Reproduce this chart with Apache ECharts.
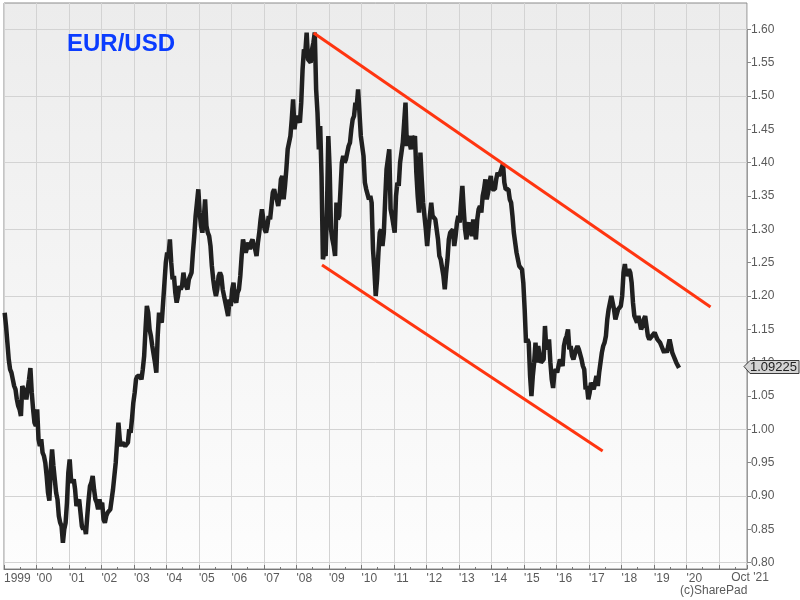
<!DOCTYPE html>
<html><head><meta charset="utf-8">
<script src="https://cdn.jsdelivr.net/npm/echarts@6/dist/echarts.min.js"></script>
<style>html,body{margin:0;padding:0;background:#fff}#c{width:800px;height:600px}</style>
</head><body><div id="c"></div>
<script>
// EUR/USD, two readings per month (first half, second half)
const eur1999 = [1.175,1.155, 1.130,1.105, 1.090,1.085, 1.075,1.065, 1.060,1.045, 1.035,1.030, 1.020,1.065, 1.060,1.055, 1.045,1.060, 1.075,1.092, 1.055,1.030, 1.010,1.005];
const eur2000 = [1.030,0.985, 0.975,0.985, 0.965,0.960, 0.950,0.930, 0.905,0.893, 0.940,0.970, 0.945,0.925, 0.905,0.895, 0.870,0.860, 0.855,0.830, 0.850,0.860, 0.890,0.935];
const eur2001 = [0.955,0.925, 0.920,0.925, 0.910,0.885, 0.890,0.895, 0.875,0.855, 0.850,0.855, 0.843,0.870, 0.895,0.915, 0.920,0.930, 0.910,0.895, 0.890,0.880, 0.895,0.885];
const eur2002 = [0.890,0.865, 0.860,0.870, 0.875,0.875, 0.880,0.895, 0.910,0.930, 0.950,0.980, 1.010,0.985, 0.975,0.980, 0.980,0.975, 0.975,0.980, 1.000,0.995, 1.015,1.040];
const eur2003 = [1.055,1.075, 1.080,1.080, 1.080,1.075, 1.090,1.110, 1.150,1.185, 1.175,1.150, 1.140,1.125, 1.125,1.100, 1.085,1.140, 1.175,1.165, 1.160,1.190, 1.220,1.250];
const eur2004 = [1.265,1.260, 1.285,1.250, 1.225,1.230, 1.205,1.190, 1.200,1.215, 1.210,1.215, 1.235,1.220, 1.220,1.210, 1.225,1.225, 1.235,1.265, 1.290,1.320, 1.340,1.360];
const eur2005 = [1.325,1.305, 1.295,1.315, 1.345,1.305, 1.295,1.290, 1.275,1.245, 1.225,1.210, 1.200,1.210, 1.230,1.235, 1.230,1.210, 1.200,1.200, 1.180,1.170, 1.195,1.185];
const eur2006 = [1.210,1.220, 1.195,1.190, 1.205,1.210, 1.230,1.260, 1.285,1.285, 1.265,1.265, 1.280,1.270, 1.280,1.285, 1.275,1.270, 1.260,1.280, 1.295,1.315, 1.330,1.315];
const eur2007 = [1.300,1.295, 1.305,1.320, 1.315,1.335, 1.355,1.360, 1.350,1.345, 1.335,1.350, 1.375,1.380, 1.345,1.365, 1.390,1.420, 1.420,1.440, 1.465,1.495, 1.450,1.465];
const eur2008 = [1.470,1.465, 1.460,1.490, 1.540,1.570, 1.565,1.595, 1.555,1.555, 1.550,1.570, 1.580,1.595, 1.510,1.475, 1.420,1.455, 1.380,1.255, 1.265,1.260, 1.330,1.440];
const eur2009 = [1.390,1.300, 1.285,1.275, 1.260,1.340, 1.315,1.320, 1.360,1.400, 1.410,1.400, 1.405,1.415, 1.425,1.430, 1.450,1.465, 1.470,1.490, 1.485,1.510, 1.475,1.440];
const eur2010 = [1.440,1.410, 1.370,1.360, 1.360,1.345, 1.350,1.340, 1.270,1.240, 1.200,1.225, 1.265,1.295, 1.300,1.275, 1.295,1.345, 1.390,1.390, 1.420,1.330, 1.320,1.320];
const eur2011 = [1.295,1.350, 1.370,1.365, 1.400,1.415, 1.430,1.460, 1.490,1.425, 1.440,1.430, 1.420,1.440, 1.435,1.440, 1.385,1.350, 1.325,1.415, 1.375,1.340, 1.320,1.300];
const eur2012 = [1.275,1.300, 1.320,1.340, 1.320,1.320, 1.315,1.315, 1.285,1.260, 1.255,1.255, 1.230,1.210, 1.235,1.255, 1.285,1.295, 1.295,1.300, 1.275,1.290, 1.310,1.320];
const eur2013 = [1.310,1.340, 1.365,1.330, 1.300,1.285, 1.305,1.310, 1.300,1.290, 1.315,1.315, 1.285,1.315, 1.330,1.335, 1.325,1.350, 1.360,1.375, 1.345,1.355, 1.370,1.380];
const eur2014 = [1.360,1.360, 1.360,1.375, 1.385,1.380, 1.385,1.385, 1.398,1.370, 1.360,1.360, 1.360,1.345, 1.340,1.320, 1.295,1.280, 1.265,1.265, 1.245,1.245, 1.240,1.220];
const eur2015 = [1.180,1.130, 1.135,1.130, 1.080,1.050, 1.080,1.100, 1.130,1.100, 1.125,1.125, 1.100,1.100, 1.105,1.155, 1.120,1.125, 1.135,1.100, 1.075,1.062, 1.085,1.090];
const eur2016 = [1.085,1.085, 1.105,1.105, 1.095,1.125, 1.135,1.140, 1.150,1.120, 1.125,1.110, 1.105,1.105, 1.120,1.125, 1.120,1.120, 1.105,1.095, 1.090,1.060, 1.065,1.045];
const eur2017 = [1.055,1.070, 1.065,1.060, 1.070,1.080, 1.065,1.085, 1.100,1.115, 1.125,1.130, 1.140,1.165, 1.180,1.180, 1.200,1.190, 1.180,1.165, 1.165,1.180, 1.180,1.185];
const eur2018 = [1.200,1.235, 1.248,1.230, 1.230,1.240, 1.235,1.220, 1.190,1.170, 1.170,1.160, 1.170,1.170, 1.150,1.155, 1.165,1.170, 1.155,1.140, 1.135,1.135, 1.140,1.140];
const eur2019 = [1.145,1.140, 1.135,1.135, 1.130,1.125, 1.125,1.115, 1.120,1.115, 1.125,1.135, 1.125,1.115, 1.110,1.108, 1.100,1.098, 1.09225];

const yearSeries = [eur1999,eur2000,eur2001,eur2002,eur2003,eur2004,eur2005,eur2006,eur2007,eur2008,eur2009,eur2010,eur2011,eur2012,eur2013,eur2014,eur2015,eur2016,eur2017,eur2018,eur2019];
const firstYear = 1999;

// channel lines [year, rate]
const upperTrend = [[2008.53, 1.5945], [2020.74, 1.1836]];
const lowerTrend = [[2008.785, 1.2465], [2017.42, 0.9675]];

const lastValue = 1.09225;
const lastLabel = "1.09225";
const endDateLabel = "Oct '21";
const titleText = "EUR/USD";
const creditText = "(c)SharePad";

const X_MIN = 1999, X_MAX = 2021.862;
const FONT = '"Liberation Sans", Arial, Helvetica, sans-serif';

const priceData = [];
yearSeries.forEach((arr, k) => arr.forEach((v, i) => priceData.push([firstYear + k + (i + 0.5) / 24, v])));

const chart = echarts.init(document.getElementById('c'), null, {renderer: 'canvas'});
const option = {
  animation: false,
  backgroundColor: '#ffffff',
  title: {
    text: titleText, left: 62, top: 27,
    textStyle: {color: '#0a3cff', fontSize: 24, fontWeight: 'bold', fontFamily: FONT}
  },
  grid: [
    {left: 4, top: 3, width: 743, height: 566, show: true,
     backgroundColor: {type: 'linear', x: 0, y: 0, x2: 0, y2: 1,
       colorStops: [{offset: 0, color: '#ececec'}, {offset: 1, color: '#fdfdfd'}]},
     borderColor: '#8a8a8a', borderWidth: 1},
    {left: 4, top: 29.3, width: 743, height: 533.4}
  ],
  xAxis: [
    {gridIndex: 0, type: 'value', min: X_MIN, max: X_MAX, interval: 1,
     axisLine: {show: true, lineStyle: {color: '#777'}},
     axisTick: {show: true, inside: true, length: 4, lineStyle: {color: '#777'}},
     minorTick: {show: true, splitNumber: 2, length: 2, lineStyle: {color: '#777'}},
     splitLine: {show: true, lineStyle: {color: '#d3d3d3'}},
     axisLabel: {show: true, align: 'left', margin: 4, color: '#5a5a5a', fontSize: 12, fontFamily: FONT,
       showMaxLabel: false, interval: 0,
       formatter: v => {
         const y = Math.round(v);
         if (Math.abs(v - y) > 1e-6) return '';
         if (y === 1999) return '1999';
         if (y >= 2021) return '';
         return "'" + String(y % 100).padStart(2, '0');
       }}},
    {gridIndex: 1, type: 'value', min: X_MIN, max: X_MAX, show: false}
  ],
  yAxis: [
    {gridIndex: 1, type: 'value', min: 0.8, max: 1.6, interval: 0.05, position: 'right',
     axisLine: {show: true, lineStyle: {color: '#9a9a9a'}},
     axisTick: {show: true, length: 4, lineStyle: {color: '#888'}},
     axisLabel: {margin: 4, color: '#5a5a5a', fontSize: 12, fontFamily: FONT, formatter: v => v.toFixed(2)},
     splitLine: {show: false}},
    {gridIndex: 1, type: 'value', min: 0.8, max: 1.6, interval: 0.1, position: 'left',
     axisLine: {show: false}, axisTick: {show: false}, axisLabel: {show: false},
     splitLine: {show: true, lineStyle: {color: '#d3d3d3'}}},
    {gridIndex: 0, type: 'value', min: 0, max: 1, show: false}
  ],
  series: [
    {type: 'line', xAxisIndex: 1, yAxisIndex: 0, data: priceData, showSymbol: false,
     lineStyle: {color: '#202020', width: 4.5, join: 'bevel'}, z: 3},
    {type: 'line', xAxisIndex: 1, yAxisIndex: 0, data: upperTrend, showSymbol: false,
     lineStyle: {color: '#ff3510', width: 3}, z: 4},
    {type: 'line', xAxisIndex: 1, yAxisIndex: 0, data: lowerTrend, showSymbol: false,
     lineStyle: {color: '#ff3510', width: 3}, z: 4}
  ]
};
chart.setOption(option);

const ly = Math.round(chart.convertToPixel({yAxisIndex: 0}, lastValue) - 2) + 0.5;
const ax = chart.convertToPixel({xAxisIndex: 0}, X_MAX);
chart.setOption({
  graphic: [
    {type: 'polygon', z: 200, zlevel: 1,
     shape: {points: [[ax - 3, ly], [ax + 3, ly - 6], [ax + 52, ly - 6], [ax + 52, ly + 7], [ax + 3, ly + 7]]},
     style: {fill: '#d4d4d4', stroke: '#3a3a3a', lineWidth: 1}},
    {type: 'text', z: 201, zlevel: 1, x: ax + 3, y: ly + 0.5,
     style: {text: lastLabel, fill: '#222', fontSize: 13, fontFamily: FONT, verticalAlign: 'middle', align: 'left'}},
    {type: 'text', x: ax + 3, y: 578, z: 100, style: {text: endDateLabel, fill: '#5a5a5a', fontSize: 12,
      fontFamily: FONT, align: 'center', verticalAlign: 'middle'}},
    {type: 'text', x: 680, y: 591, z: 100, style: {text: creditText, fill: '#5a5a5a', fontSize: 12,
      fontFamily: FONT, align: 'left', verticalAlign: 'middle'}}
  ]
});
</script></body></html>
